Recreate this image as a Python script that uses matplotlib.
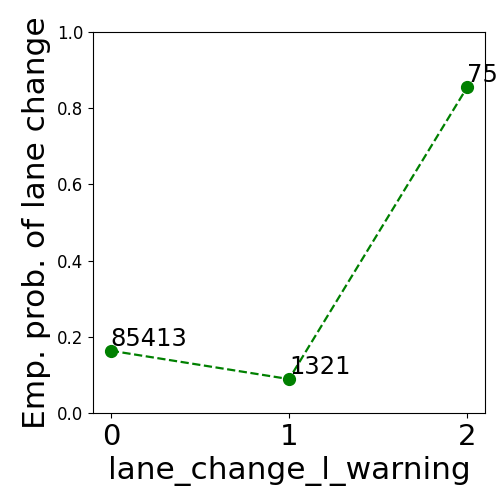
import numpy as np
from matplotlib import pyplot as plt

# empirical probability of lane change per warning value, with sample counts
warning = [0, 1, 2]
prob = [0.1635, 0.089, 0.855]
counts = [85413, 1321, 75]

fig = plt.figure(figsize=(5.02, 5.0), dpi=100)
ax = fig.add_axes([93/502, 1 - 413/500, 392/502, 381/500])

ax.plot(warning, prob, 'o--', color='green', markersize=8.5, linewidth=1.6)
for x, p, n in zip(warning, prob, counts):
    ax.text(x, p, str(n), fontsize=17.5, va='bottom', ha='left')

ax.set_ylim(0, 1.0)
ax.set_xticks(warning)
ax.tick_params(axis='x', labelsize=21)
ax.tick_params(axis='y', labelsize=12)
ax.set_xlabel('lane_change_l_warning', fontsize=22.5)
ax.set_ylabel('Emp. prob. of lane change', fontsize=22.5)

fig.savefig('out.png', dpi=100)
